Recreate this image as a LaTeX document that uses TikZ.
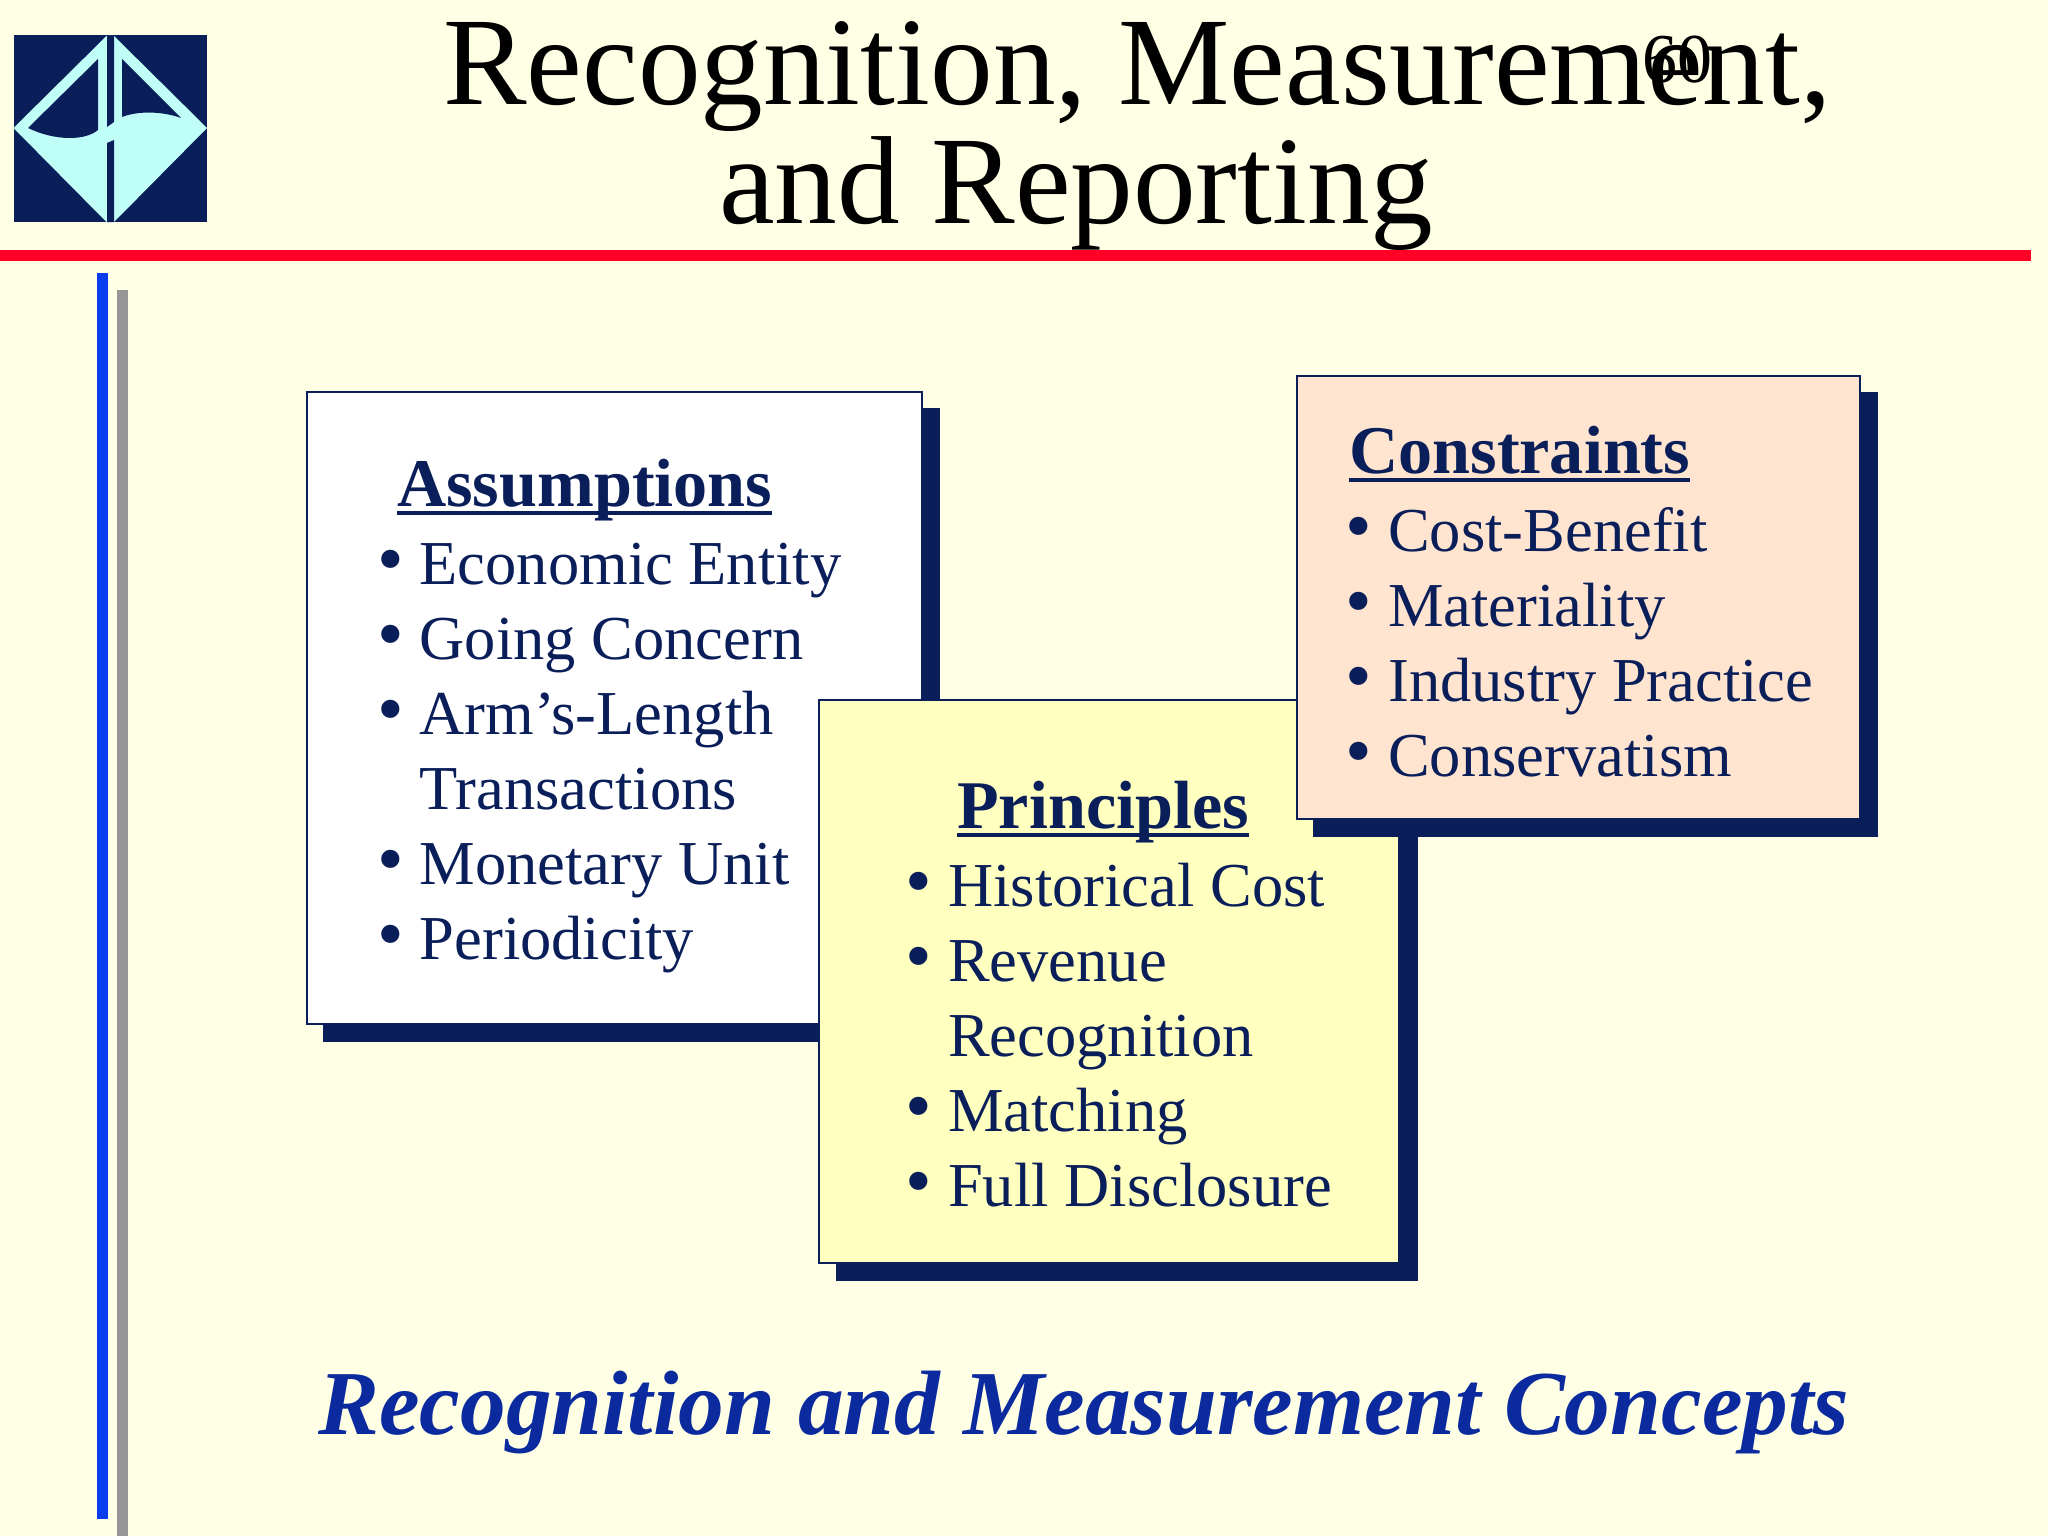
\documentclass[tikz,border=0pt]{standalone}
\usepackage{fontspec}
\setmainfont{Liberation Serif}
\definecolor{paper}{HTML}{FFFFE6}
\definecolor{navy}{HTML}{0A1E5A}
\definecolor{logolight}{HTML}{C0FFF8}
\definecolor{rulered}{HTML}{FF0026}
\definecolor{stripeblue}{HTML}{0A3CF0}
\definecolor{stripegray}{HTML}{969696}
\definecolor{captionblue}{HTML}{0A2A9E}
\definecolor{principlefill}{HTML}{FFFFC0}
\definecolor{constraintfill}{HTML}{FFE4CF}
\newcommand{\itembul}{\llap{{\fontsize{76}{76}\selectfont\textbullet}\hspace{16pt}}}
\newcommand{\headrule}[1]{\setbox0\hbox{#1}\rlap{\rule[-9pt]{\wd0}{4pt}}\box0}
\tikzset{
  titletext/.style={anchor=base west,inner sep=0pt,font=\fontsize{125.3}{125.3}\selectfont},
  headtext/.style={anchor=base west,inner sep=0pt,text=navy,font=\fontsize{68.2}{68.2}\selectfont\bfseries},
  itemtext/.style={anchor=base west,inner sep=0pt,text=navy,font=\fontsize{62.5}{62.5}\selectfont},
  cardbox/.style={draw=navy,line width=1.5pt},
  cardshadow/.style={fill=navy}
}
\begin{document}
\begin{tikzpicture}[x=1pt,y=-1pt]
  \useasboundingbox (0,0) rectangle (2048,1536);
  \fill[paper] (0,0) rectangle (2048,1536);
  % logo
  \fill[navy] (13.5,35.5) rectangle (207,222);
  \fill[logolight] (106.5,36) -- (13.5,128) -- (106.5,222) -- (114,222) -- (207,128) -- (114,36) -- cycle;
  \fill[navy] (107,35.5) -- (114,35.5) -- (114,122) -- (107,127) -- cycle;
  \fill[navy] (107,143) -- (114,140) -- (114,222) -- (107,222) -- cycle;
  \fill[navy] (28,128) -- (98,59) -- (98,130) .. controls (85,141) and (55,141) .. (28,128) -- cycle;
  \fill[navy] (122,59) -- (181,118) .. controls (165,112) and (140,110) .. (122,117) -- cycle;
  % rule and stripes
  \fill[rulered] (0,250) rectangle (2031,261);
  \fill[stripeblue] (96.7,273) rectangle (108,1519);
  \fill[stripegray] (116.7,290) rectangle (128,1536);
  % title
  \draw
    (443,105) node[titletext] (title1){Recognition, Measurement,}
    (719,223) node[titletext] (title2){and Reporting}
    (1642,83) node[anchor=base west,inner sep=0pt,font=\fontsize{70}{70}\selectfont] (pagenum){60};
  % assumptions
  \fill[cardshadow] (323,408) rectangle (939.5,1042);
  \filldraw[cardbox,fill=white] (307,392) rectangle (922,1024);
  \draw
    (397,506) node[headtext] (assume0){\headrule{Assumptions}}
    (419.5,584) node[itemtext] (assume1){\itembul Economic Entity}
    (419.5,659) node[itemtext] (assume2){\itembul Going Concern}
    (419.5,734) node[itemtext] (assume3){\itembul Arm’s-Length}
    (419.5,809) node[itemtext] (assume4){Transactions}
    (419.5,884) node[itemtext] (assume5){\itembul Monetary Unit}
    (419.5,959) node[itemtext] (assume6){\itembul Periodicity};
  % principles
  \fill[cardshadow] (835.5,716) rectangle (1417.5,1281);
  \filldraw[cardbox,fill=principlefill] (819,700) rectangle (1399,1263);
  \draw
    (957,828) node[headtext] (princ0){\headrule{Principles}}
    (948,906) node[itemtext] (princ1){\itembul Historical Cost}
    (948,981) node[itemtext] (princ2){\itembul Revenue}
    (948,1056) node[itemtext] (princ3){Recognition}
    (948,1131) node[itemtext] (princ4){\itembul Matching}
    (948,1206) node[itemtext] (princ5){\itembul Full Disclosure};
  % constraints
  \fill[cardshadow] (1313,392) rectangle (1878,837);
  \filldraw[cardbox,fill=constraintfill] (1297,376) rectangle (1860,819);
  \draw
    (1349,473) node[headtext] (constr0){\headrule{Constraints}}
    (1388,551) node[itemtext] (constr1){\itembul Cost-Benefit}
    (1388,626) node[itemtext] (constr2){\itembul Materiality}
    (1388,701) node[itemtext] (constr3){\itembul Industry Practice}
    (1388,776) node[itemtext] (constr4){\itembul Conservatism};
  % caption
  \draw (318,1434) node[anchor=base west,inner sep=0pt,text=captionblue,font=\fontsize{91.4}{91.4}\selectfont\bfseries\itshape] (caption){Recognition and Measurement Concepts};
\end{tikzpicture}
\end{document}
